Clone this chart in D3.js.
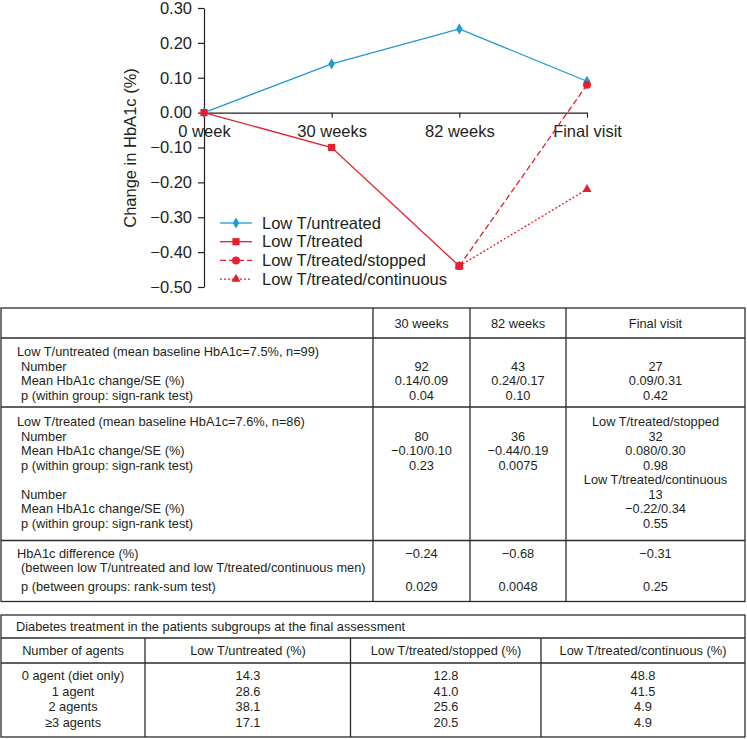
<!DOCTYPE html>
<html><head><meta charset="utf-8">
<script src="https://cdn.jsdelivr.net/npm/d3@7"></script>
<style>
html,body{margin:0;padding:0;background:#fff;}
svg{display:block;font-family:"Liberation Sans",Arial,sans-serif;}
</style></head>
<body>
<svg id="c" width="747" height="739"></svg>
<script>
// ---------- data ----------
const timepoints = ["0 week", "30 weeks", "82 weeks", "Final visit"];
const yTicks = [0.30, 0.20, 0.10, 0.00, -0.10, -0.20, -0.30, -0.40, -0.50];
const untreated = [0.00, 0.14, 0.24, 0.09];                 // 0 wk, 30 wk, 82 wk, final
const treated = [0.00, -0.10, -0.44];                        // 0 wk, 30 wk, 82 wk
const treatedStopped = [-0.44, 0.08];                        // 82 wk, final
const treatedContinuous = [-0.44, -0.22];                    // 82 wk, final
const seriesNames = ["Low T/untreated", "Low T/treated", "Low T/treated/stopped", "Low T/treated/continuous"];
const yLabel = "Change in HbA1c (%)";

const t1Header = ["", "30 weeks", "82 weeks", "Final visit"];
const t1Group1 = [
  ["Low T/untreated (mean baseline HbA1c=7.5%, n=99)", "", "", "", 0],
  ["Number", "92", "43", "27", 1],
  ["Mean HbA1c change/SE (%)", "0.14/0.09", "0.24/0.17", "0.09/0.31", 1],
  ["p (within group: sign-rank test)", "0.04", "0.10", "0.42", 1]
];
const t1Group2 = [
  ["Low T/treated (mean baseline HbA1c=7.6%, n=86)", "", "", "Low T/treated/stopped", 0],
  ["Number", "80", "36", "32", 1],
  ["Mean HbA1c change/SE (%)", "\u22120.10/0.10", "\u22120.44/0.19", "0.080/0.30", 1],
  ["p (within group: sign-rank test)", "0.23", "0.0075", "0.98", 1],
  ["", "", "", "Low T/treated/continuous", 1],
  ["Number", "", "", "13", 1],
  ["Mean HbA1c change/SE (%)", "", "", "\u22120.22/0.34", 1],
  ["p (within group: sign-rank test)", "", "", "0.55", 1]
];
const t1Group3 = [
  ["HbA1c difference (%)", "\u22120.24", "\u22120.68", "\u22120.31", 0],
  ["(between low T/untreated and low T/treated/continuous men)", "", "", "", 1],
  ["p (between groups: rank-sum test)", "0.029", "0.0048", "0.25", 1]
];
const t2Title = "Diabetes treatment in the patients subgroups at the final assessment";
const t2Header = ["Number of agents", "Low T/untreated (%)", "Low T/treated/stopped (%)", "Low T/treated/continuous (%)"];
const t2Agents = ["0 agent (diet only)", "1 agent", "2 agents", "\u22653 agents"];
const t2Untreated = ["14.3", "28.6", "38.1", "17.1"];
const t2Stopped = ["12.8", "41.0", "25.6", "20.5"];
const t2Continuous = ["48.8", "41.5", "4.9", "4.9"];

// ---------- chart ----------
const svg = d3.select("#c");
const BLUE = "#1e9ad6", RED = "#e3202b", INK = "#231f20";
const x = d3.scalePoint().domain(timepoints).range([204, 587]);
const y = d3.scaleLinear().domain([-0.5, 0.3]).range([287, 8]);
const fmt = d => (d < -1e-9 ? "\u2212" : "") + Math.abs(d).toFixed(2);

const gy = svg.append("g").attr("transform", "translate(204,0)")
  .call(d3.axisLeft(y).tickValues(yTicks).tickFormat(fmt).tickSize(6).tickSizeOuter(0).tickPadding(6));
const gx = svg.append("g").attr("transform", `translate(0,${y(0)})`)
  .call(d3.axisBottom(x).tickSize(5).tickSizeOuter(0).tickPadding(8));
[gy, gx].forEach(g => {
  g.selectAll("path,line").attr("stroke", INK).attr("stroke-width", 1.2);
  g.selectAll("text").attr("fill", INK).style("font-size", "16.5px").style("font-family", "Liberation Sans, Arial, sans-serif");
});

svg.append("text").attr("transform", "translate(136,148) rotate(-90)")
  .attr("text-anchor", "middle").attr("fill", INK).style("font-size", "16.5px").text(yLabel);

const line = d3.line().x(d => x(d[0])).y(d => y(d[1]));
const pts = (names, vals) => vals.map((v, i) => [names[i], v]);
const sUn = pts(timepoints, untreated);
const sTr = pts(timepoints, treated);
const sSt = pts(timepoints.slice(2), treatedStopped);
const sCo = pts(timepoints.slice(2), treatedContinuous);

const sym = {
  diamond: d3.symbol().type(d3.symbolDiamond).size(36),
  square: d3.symbol().type(d3.symbolSquare).size(52),
  circle: d3.symbol().type(d3.symbolCircle).size(50),
  triangle: d3.symbol().type(d3.symbolTriangle).size(36)
};
function drawSeries(data, color, dash, shape) {
  svg.append("path").datum(data).attr("d", line).attr("fill", "none")
    .attr("stroke", color).attr("stroke-width", 1.3).attr("stroke-dasharray", dash);
  svg.append("g").selectAll("path").data(data).join("path")
    .attr("transform", d => `translate(${x(d[0])},${y(d[1])})`)
    .attr("d", sym[shape]).attr("fill", color);
}
drawSeries(sUn, BLUE, null, "diamond");
drawSeries(sCo, RED, "2,2", "triangle");
drawSeries(sSt, RED, "6,3", "circle");
drawSeries(sTr, RED, null, "square");

// legend
const legend = [
  [seriesNames[0], BLUE, null, "diamond"],
  [seriesNames[1], RED, null, "square"],
  [seriesNames[2], RED, "6,3", "circle"],
  [seriesNames[3], RED, "2,2", "triangle"]
];
legend.forEach((l, i) => {
  const ly = 223 + i * 18.7;
  svg.append("line").attr("x1", 220).attr("x2", 252).attr("y1", ly).attr("y2", ly)
    .attr("stroke", l[1]).attr("stroke-width", 1.3).attr("stroke-dasharray", l[2]);
  svg.append("path").attr("transform", `translate(236,${ly})`).attr("d", sym[l[3]]).attr("fill", l[1]);
  svg.append("text").attr("x", 262).attr("y", ly).attr("dy", "0.35em").attr("fill", INK)
    .style("font-size", "16.5px").text(l[0]);
});

// ---------- table 1 ----------
const TF = "12.8px", LC = "#2b2b2b", LW = 1.3;
const colX = [1, 373, 470, 566, 745];
const colC = [0, 421.5, 518, 655.5];
function hline(y0, x0, x1) {
  svg.append("line").attr("x1", x0).attr("x2", x1).attr("y1", y0).attr("y2", y0).attr("stroke", LC).attr("stroke-width", LW);
}
function vline(xv, y0, y1) {
  svg.append("line").attr("x1", xv).attr("x2", xv).attr("y1", y0).attr("y2", y1).attr("stroke", LC).attr("stroke-width", LW);
}
function txt(s, xv, yv, anchor) {
  svg.append("text").attr("x", xv).attr("y", yv).attr("dy", "0.35em").attr("text-anchor", anchor)
    .attr("fill", INK).style("font-size", TF).text(s);
}
const t1Top = 308, t1HeadBot = 338, t1Bot = 601.5;
svg.append("rect").attr("x", colX[0]).attr("y", t1Top).attr("width", colX[4] - colX[0]).attr("height", t1Bot - t1Top)
  .attr("fill", "none").attr("stroke", LC).attr("stroke-width", LW);
[1, 2, 3].forEach(i => vline(colX[i], t1Top, t1Bot));
hline(t1HeadBot, colX[0], colX[4]);
hline(407, colX[0], colX[4]);
hline(540.5, colX[0], colX[4]);
t1Header.forEach((h, i) => { if (h) txt(h, colC[i], 323.5, "middle"); });

function drawRows(rows, ys) {
  rows.forEach((r, i) => {
    if (r[0]) txt(r[0], r[4] ? 21 : 17, ys[i], "start");
    for (let c = 1; c <= 3; c++) if (r[c]) txt(r[c], colC[c], ys[i], "middle");
  });
}
drawRows(t1Group1, [352, 366.5, 381, 395.5]);
drawRows(t1Group2, [422, 436.5, 451, 465.5, 480, 494.5, 509, 523.5]);
drawRows(t1Group3, [554, 568, 586.5]);

// ---------- table 2 ----------
const t2Top = 615, t2TitleBot = 638, t2HeadBot = 663, t2Bot = 737;
const c2X = [1, 145, 350.5, 541, 745];
const c2C = [73, 248, 446, 643];
svg.append("rect").attr("x", c2X[0]).attr("y", t2Top).attr("width", c2X[4] - c2X[0]).attr("height", t2Bot - t2Top)
  .attr("fill", "none").attr("stroke", LC).attr("stroke-width", LW);
hline(t2TitleBot, c2X[0], c2X[4]);
hline(t2HeadBot, c2X[0], c2X[4]);
[1, 2, 3].forEach(i => vline(c2X[i], t2TitleBot, t2Bot));
txt(t2Title, 16, 626.5, "start");
t2Header.forEach((h, i) => txt(h, c2C[i], 651, "middle"));
const rowY2 = [676, 691.5, 707, 722.5];
t2Agents.forEach((a, i) => {
  txt(a, c2C[0], rowY2[i], "middle");
  txt(t2Untreated[i], c2C[1], rowY2[i], "middle");
  txt(t2Stopped[i], c2C[2], rowY2[i], "middle");
  txt(t2Continuous[i], c2C[3], rowY2[i], "middle");
});
</script>
</body></html>
